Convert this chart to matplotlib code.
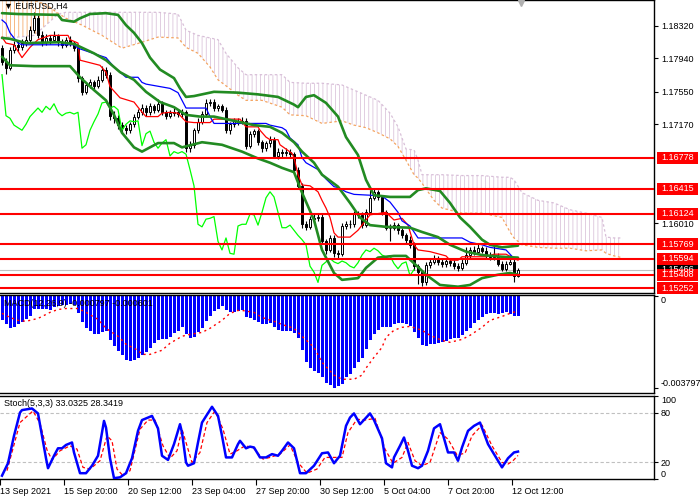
import numpy as np
import matplotlib
matplotlib.use("Agg")
import matplotlib.pyplot as plt
from matplotlib.patches import Rectangle

plt.rcParams['font.family'] = ['Liberation Sans', 'DejaVu Sans']
plt.rcParams['hatch.linewidth'] = 0.55

# EURUSD H4 candles, 13 Sep - 12 Oct 2021
open0 = 1.1806
closes = np.array([
    1.1790, 1.1783, 1.1804, 1.1810, 1.1807, 1.1812, 1.1816, 1.1827, 1.1841, 1.1821,
    1.1813, 1.1818, 1.1816, 1.1820, 1.1813, 1.1810, 1.1816, 1.1812, 1.1806, 1.1771,
    1.1755, 1.1763, 1.1766, 1.1762, 1.1769, 1.1781, 1.1775, 1.1727, 1.1724, 1.1716,
    1.1713, 1.1710, 1.1717, 1.1726, 1.1731, 1.1736, 1.1731, 1.1738, 1.1734, 1.1741,
    1.1731, 1.1727, 1.1730, 1.1731, 1.1729, 1.1731, 1.1689, 1.1693, 1.1710, 1.1720,
    1.1729, 1.1742, 1.1743, 1.1736, 1.1738, 1.1734, 1.1710, 1.1717, 1.1721, 1.1720,
    1.1721, 1.1692, 1.1706, 1.1709, 1.1696, 1.1689, 1.1695, 1.1699, 1.1680, 1.1685,
    1.1683, 1.1685, 1.1682, 1.1664, 1.1645, 1.1600, 1.1597, 1.1606, 1.1607, 1.1609,
    1.1580, 1.1570, 1.1584, 1.1566, 1.1565, 1.1598, 1.1600, 1.1600, 1.1612, 1.1611,
    1.1599, 1.1614, 1.1631, 1.1638, 1.1632, 1.1614, 1.1596, 1.1596, 1.1599, 1.1593,
    1.1587, 1.1582, 1.1576, 1.1551, 1.1544, 1.1532, 1.1552, 1.1556, 1.1560, 1.1556,
    1.1554, 1.1557, 1.1555, 1.1551, 1.1549, 1.1555, 1.1564, 1.1570, 1.1568, 1.1572,
    1.1569, 1.1564, 1.1562, 1.1563, 1.1554, 1.1548, 1.1554, 1.1556, 1.1540, 1.1547,
])
highs = np.array([
    1.1810, 1.1794, 1.1807, 1.1814, 1.1815, 1.1817, 1.1820, 1.1832, 1.1848, 1.1845,
    1.1826, 1.1823, 1.1822, 1.1826, 1.1823, 1.1817, 1.1819, 1.1820, 1.1815, 1.1809,
    1.1774, 1.1767, 1.1770, 1.1769, 1.1773, 1.1785, 1.1784, 1.1778, 1.1732, 1.1728,
    1.1720, 1.1716, 1.1720, 1.1729, 1.1735, 1.1741, 1.1739, 1.1742, 1.1741, 1.1746,
    1.1744, 1.1734, 1.1734, 1.1736, 1.1735, 1.1735, 1.1734, 1.1697, 1.1713, 1.1724,
    1.1732, 1.1746, 1.1747, 1.1746, 1.1741, 1.1741, 1.1737, 1.1720, 1.1724, 1.1724,
    1.1725, 1.1724, 1.1709, 1.1712, 1.1711, 1.1699, 1.1698, 1.1703, 1.1702, 1.1689,
    1.1688, 1.1689, 1.1688, 1.1685, 1.1667, 1.1648, 1.1604, 1.1610, 1.1612, 1.1613,
    1.1612, 1.1583, 1.1588, 1.1587, 1.1570, 1.1602, 1.1604, 1.1605, 1.1616, 1.1615,
    1.1614, 1.1618, 1.1640, 1.1643, 1.1640, 1.1634, 1.1617, 1.1600, 1.1603, 1.1602,
    1.1596, 1.1590, 1.1586, 1.1579, 1.1554, 1.1547, 1.1556, 1.1561, 1.1564, 1.1563,
    1.1560, 1.1561, 1.1560, 1.1558, 1.1555, 1.1559, 1.1573, 1.1574, 1.1575, 1.1577,
    1.1575, 1.1573, 1.1567, 1.1577, 1.1566, 1.1557, 1.1557, 1.1564, 1.1560, 1.1549,
])
lows = np.array([
    1.1786, 1.1776, 1.1780, 1.1800, 1.1803, 1.1804, 1.1809, 1.1813, 1.1824, 1.1818,
    1.1809, 1.1810, 1.1811, 1.1813, 1.1809, 1.1806, 1.1807, 1.1808, 1.1803, 1.1767,
    1.1751, 1.1752, 1.1759, 1.1758, 1.1759, 1.1766, 1.1771, 1.1722, 1.1719, 1.1712,
    1.1708, 1.1706, 1.1707, 1.1714, 1.1723, 1.1728, 1.1727, 1.1728, 1.1730, 1.1731,
    1.1728, 1.1723, 1.1724, 1.1727, 1.1725, 1.1726, 1.1684, 1.1685, 1.1689, 1.1707,
    1.1717, 1.1726, 1.1738, 1.1732, 1.1733, 1.1731, 1.1707, 1.1706, 1.1714, 1.1716,
    1.1717, 1.1688, 1.1689, 1.1702, 1.1693, 1.1685, 1.1686, 1.1690, 1.1677, 1.1676,
    1.1679, 1.1680, 1.1679, 1.1661, 1.1642, 1.1596, 1.1593, 1.1594, 1.1602, 1.1604,
    1.1577, 1.1565, 1.1567, 1.1562, 1.1561, 1.1563, 1.1595, 1.1596, 1.1597, 1.1607,
    1.1596, 1.1597, 1.1612, 1.1628, 1.1628, 1.1611, 1.1593, 1.1580, 1.1593, 1.1589,
    1.1584, 1.1578, 1.1572, 1.1547, 1.1530, 1.1528, 1.1529, 1.1549, 1.1553, 1.1552,
    1.1550, 1.1550, 1.1551, 1.1548, 1.1545, 1.1546, 1.1552, 1.1561, 1.1564, 1.1565,
    1.1566, 1.1561, 1.1558, 1.1558, 1.1551, 1.1545, 1.1545, 1.1552, 1.1532, 1.1538,
])

# Bollinger bands (20)
bb_up_x = [0, 4, 14, 15, 18, 19.5, 22, 26, 29, 31, 33, 35, 37, 39.5, 43, 44.5, 46, 48, 53, 59,
           64, 69, 73, 74, 76, 78, 81, 84, 86, 89, 91, 93, 97, 102, 104, 106, 109.5, 112, 114.5, 117,
           120, 122, 125, 129]
bb_up = [1.1847, 1.1846, 1.1845, 1.1839, 1.1837, 1.1841, 1.1846, 1.1847, 1.1845, 1.1833,
         1.1824, 1.1812, 1.1795, 1.1781, 1.1771, 1.1759, 1.1749, 1.1750, 1.1755, 1.1754,
         1.1752, 1.1749, 1.1740, 1.1737, 1.1749, 1.1751, 1.1742, 1.1726, 1.1702, 1.1681,
         1.1652, 1.1634, 1.1632, 1.1632, 1.1640, 1.1642, 1.1639, 1.1625, 1.1608, 1.1597,
         1.1582, 1.1576, 1.1573, 1.1575]
bb_mid_x = [0, 2, 6, 14.5, 18, 23, 26, 29.5, 33, 36, 39.5, 43, 46, 49.5, 53, 59, 63, 67, 70, 73,
            75, 78, 80, 84, 87, 89.5, 92, 96, 102, 105, 109, 112, 116, 120, 125, 129]
bb_mid = [1.1818, 1.1817, 1.1812, 1.1813, 1.1811, 1.1800, 1.1792, 1.1778, 1.1769, 1.1755,
          1.1743, 1.1737, 1.1728, 1.1726, 1.1726, 1.1720, 1.1716, 1.1714, 1.1707, 1.1696,
          1.1685, 1.1672, 1.1658, 1.1644, 1.1625, 1.1608, 1.1599, 1.1597, 1.1596, 1.1591,
          1.1585, 1.1576, 1.1568, 1.1564, 1.1562, 1.1561]
bb_low_x = [0, 2, 8, 17, 19.5, 23, 26, 28, 30, 33, 35, 39, 43, 45, 50, 55, 60, 64, 67, 70,
            73, 75, 78, 80, 83, 85, 89, 91, 94, 98, 101, 104, 106, 109.5, 114, 117, 120, 124, 127, 129]
bb_low = [1.1796, 1.1786, 1.1785, 1.1785, 1.1772, 1.1757, 1.1745, 1.1728, 1.1707, 1.1690,
          1.1685, 1.1695, 1.1695, 1.1690, 1.1696, 1.1693, 1.1685, 1.1677, 1.1672, 1.1666,
          1.1661, 1.1637, 1.1605, 1.1570, 1.1543, 1.1535, 1.1537, 1.1549, 1.1561, 1.1563,
          1.1563, 1.1550, 1.1541, 1.1529, 1.1527, 1.1529, 1.1537, 1.1541, 1.1543, 1.1541]

# Ichimoku: tenkan (red), kijun (blue), cloud spans
tk_x = [0, 1, 3, 5, 7, 9, 12, 16.5, 17, 19, 19.5, 24.5, 26, 27, 29.5, 33, 34.5, 36, 39, 40,
        42, 44, 46, 48, 52, 53, 59.5, 61, 64, 64.5, 66, 67, 69, 69.5, 71, 72.5, 73, 74, 75, 77,
        79, 80, 81, 82, 83, 84, 87, 89, 90, 91, 92, 96, 98, 100, 101.5, 103, 104, 107, 111, 112,
        114, 115, 121, 123, 126, 128, 129]
tenkan = [1.1819, 1.1812, 1.1810, 1.1795, 1.1807, 1.1816, 1.1821, 1.1821, 1.1816, 1.1812,
          1.1792, 1.1786, 1.1778, 1.1761, 1.1748, 1.1743, 1.1734, 1.1726, 1.1726, 1.1730,
          1.1731, 1.1730, 1.1720, 1.1719, 1.1719, 1.1723, 1.1723, 1.1714, 1.1714, 1.1710,
          1.1702, 1.1699, 1.1699, 1.1693, 1.1688, 1.1683, 1.1678, 1.1658, 1.1646, 1.1645,
          1.1638, 1.1628, 1.1619, 1.1608, 1.1590, 1.1585, 1.1585, 1.1593, 1.1599, 1.1605,
          1.1611, 1.1614, 1.1605, 1.1607, 1.1599, 1.1576, 1.1570, 1.1568, 1.1563, 1.1558,
          1.1558, 1.1562, 1.1562, 1.1565, 1.1565, 1.1560, 1.1558]
kj_x = [0, 1, 2, 4, 5, 18, 19, 26, 28, 31, 34, 35, 36, 42, 44, 45, 46, 51, 52, 53,
        66, 67, 70, 71, 72, 74, 75, 76, 79, 81, 83, 84, 86, 88, 92, 95, 97, 99, 100, 102,
        104, 115, 117, 120, 122, 126, 128, 129]
kijun = [1.1839, 1.1835, 1.1824, 1.1812, 1.1810, 1.1810, 1.1806, 1.1795, 1.1784, 1.1772,
         1.1772, 1.1766, 1.1764, 1.1759, 1.1754, 1.1745, 1.1736, 1.1736, 1.1726, 1.1718,
         1.1718, 1.1716, 1.1713, 1.1710, 1.1701, 1.1693, 1.1678, 1.1672, 1.1664, 1.1653,
         1.1644, 1.1643, 1.1638, 1.1635, 1.1634, 1.1633, 1.1626, 1.1614, 1.1604, 1.1598,
         1.1584, 1.1584, 1.1579, 1.1576, 1.1573, 1.1570, 1.1560, 1.1560]
cloud_x = [0, 4, 8, 11, 14, 16, 20, 25, 30, 35, 39, 44, 46, 49, 52, 54, 56, 59, 61, 65,
           70, 72, 76, 80, 85, 88, 91, 94, 97, 99, 101, 103, 104, 105, 108, 110, 115, 120, 125, 127,
           128, 130, 134, 138, 142, 146, 150, 151, 153, 155]
span_a = [1.1868, 1.1865, 1.1862, 1.1857, 1.1847, 1.1841, 1.1833, 1.1821, 1.1806, 1.1813,
          1.1819, 1.1818, 1.1807, 1.1800, 1.1784, 1.1769, 1.1762, 1.1751, 1.1745, 1.1745,
          1.1737, 1.1728, 1.1727, 1.1718, 1.1721, 1.1716, 1.1713, 1.1707, 1.1700, 1.1691,
          1.1675, 1.1658, 1.1654, 1.1648, 1.1628, 1.1619, 1.1613, 1.1613, 1.1608, 1.1591,
          1.1584, 1.1576, 1.1573, 1.1572, 1.1572, 1.1569, 1.1570, 1.1566, 1.1563, 1.1561]
span_b = [1.1819, 1.1819, 1.1821, 1.1833, 1.1846, 1.1848, 1.1848, 1.1848, 1.1848, 1.1848,
          1.1848, 1.1846, 1.1827, 1.1821, 1.1818, 1.1816, 1.1800, 1.1783, 1.1775, 1.1775,
          1.1775, 1.1766, 1.1765, 1.1765, 1.1763, 1.1757, 1.1751, 1.1745, 1.1730, 1.1714,
          1.1688, 1.1687, 1.1675, 1.1658, 1.1658, 1.1658, 1.1657, 1.1657, 1.1655, 1.1655,
          1.1652, 1.1637, 1.1628, 1.1625, 1.1617, 1.1613, 1.1608, 1.1585, 1.1584, 1.1584]

levels = [1.16778, 1.16415, 1.16124, 1.15769, 1.15594, 1.15408, 1.15252]
price_ticks = [1.18320, 1.17940, 1.17550, 1.17170, 1.16010]
bid = 1.15466

# MACD(12,26,9)
macd = np.array([
    -0.00099, -0.00116, -0.00132, -0.00128, -0.00116, -0.00107, -0.00095, -0.00083, -0.00054, -0.00050,
    -0.00050, -0.00054, -0.00058, -0.00045, -0.00041, -0.00037, -0.00037, -0.00033, -0.00037, -0.00070,
    -0.00107, -0.00132, -0.00145, -0.00157, -0.00157, -0.00149, -0.00145, -0.00182, -0.00207, -0.00227,
    -0.00244, -0.00264, -0.00268, -0.00264, -0.00256, -0.00244, -0.00231, -0.00215, -0.00194, -0.00182,
    -0.00178, -0.00178, -0.00169, -0.00153, -0.00145, -0.00128, -0.00157, -0.00173, -0.00169, -0.00149,
    -0.00132, -0.00103, -0.00083, -0.00062, -0.00050, -0.00041, -0.00058, -0.00066, -0.00066, -0.00062,
    -0.00058, -0.00087, -0.00091, -0.00099, -0.00107, -0.00116, -0.00116, -0.00112, -0.00128, -0.00140,
    -0.00145, -0.00145, -0.00145, -0.00153, -0.00173, -0.00223, -0.00273, -0.00297, -0.00310, -0.00318,
    -0.00335, -0.00359, -0.00368, -0.00380, -0.00372, -0.00363, -0.00335, -0.00322, -0.00297, -0.00273,
    -0.00256, -0.00219, -0.00182, -0.00157, -0.00140, -0.00128, -0.00128, -0.00128, -0.00116, -0.00112,
    -0.00112, -0.00116, -0.00124, -0.00149, -0.00173, -0.00202, -0.00207, -0.00198, -0.00198, -0.00194,
    -0.00190, -0.00186, -0.00178, -0.00173, -0.00173, -0.00161, -0.00145, -0.00132, -0.00112, -0.00099,
    -0.00087, -0.00074, -0.00070, -0.00070, -0.00074, -0.00070, -0.00066, -0.00074, -0.00083, -0.00080,
])
sig_x = [0, 2, 4, 6, 9, 10, 12, 14, 16, 19, 21, 24, 26, 29, 31, 34, 35, 37, 40, 42,
         45, 47, 50, 52, 55, 57, 59, 60, 63, 65, 68, 70, 73, 75, 78, 80, 83, 85, 88, 90,
         91, 93, 95, 96, 98, 100, 102, 105, 107, 110, 112, 115, 117, 120, 122, 125, 127, 129]
macd_sig = [-0.00070, -0.00087, -0.00099, -0.00103, -0.00091, -0.00083, -0.00066, -0.00054, -0.00050, -0.00050,
            -0.00066, -0.00095, -0.00132, -0.00165, -0.00198, -0.00223, -0.00240, -0.00240, -0.00223, -0.00194,
            -0.00165, -0.00157, -0.00149, -0.00132, -0.00099, -0.00070, -0.00058, -0.00058, -0.00066, -0.00087,
            -0.00103, -0.00116, -0.00132, -0.00165, -0.00211, -0.00273, -0.00326, -0.00343, -0.00343, -0.00326,
            -0.00297, -0.00252, -0.00211, -0.00169, -0.00140, -0.00128, -0.00124, -0.00140, -0.00161, -0.00182,
            -0.00190, -0.00178, -0.00161, -0.00128, -0.00099, -0.00083, -0.00070, -0.00060]

# Stoch(5,3,3)
st_x = [0, 1.5, 3, 4.5, 5, 7.5, 9, 10, 11, 11.5, 13, 14, 15, 16, 17.5, 18, 19.5, 21, 22.5, 24,
        25, 25.5, 26, 27, 28, 29.5, 31, 32.5, 34, 35, 37.5, 39, 40, 41.5, 43, 44.5, 45, 46, 46.5, 48,
        49, 50, 52.5, 54, 55, 56, 57.5, 59, 59.5, 61, 62, 63, 64.5, 66, 67.5, 69, 70, 71.5, 73, 74.5,
        76, 78, 80, 81.5, 83, 84.5, 86, 87, 88, 89.5, 92, 93, 95, 96, 97.5, 98, 99.5, 100.5, 101.5, 102.5,
        104, 105, 106.5, 108, 109.5, 111.5, 113, 114, 115, 116.5, 118, 119.5, 121.5, 124, 125, 126.5, 128, 129]
stoch_main = [4, 19, 52, 80, 83, 85, 79, 52, 25, 13, 28, 37, 37, 41, 44, 32, 7, 7, 16, 28,
              56, 70, 62, 25, 1, 2, 7, 25, 58, 71, 76, 61, 28, 23, 42, 66, 56, 20, 16, 19,
              44, 68, 87, 76, 52, 26, 26, 42, 46, 37, 39, 38, 26, 26, 30, 28, 34, 44, 37, 7,
              7, 16, 31, 32, 19, 28, 64, 74, 79, 66, 79, 71, 49, 19, 14, 26, 40, 50, 34, 16,
              13, 16, 34, 61, 66, 32, 32, 22, 38, 58, 64, 68, 42, 22, 14, 25, 32, 33.03]
ss_x = [1.25, 4.5, 7.75, 9.5, 11.25, 12.5, 14.5, 17, 18.75, 20.25, 22, 24.5, 26.25, 27.5, 28.75, 30.25,
        32, 34.5, 36.5, 38.25, 40.25, 42, 43.75, 45, 46.25, 47.5, 49.5, 51.25, 53.25, 55.25, 57, 58.75,
        60.75, 62.75, 65.25, 67, 69.5, 72, 74, 76.25, 78.75, 80.75, 82.75, 85, 86.5, 88.75, 90.75, 93.25,
        95.75, 97.75, 100, 101.5, 103.25, 105, 107, 109.5, 111.5, 113.75, 115.75, 117.5, 120, 122.5, 125,
        126.5, 127.75, 129]
stoch_sig = [10, 68, 82, 67, 35, 23, 34, 40, 36, 14, 12, 22, 52, 46, 12, 4, 10, 60, 71, 71,
             40, 25, 34, 60, 40, 20, 32, 68, 82, 60, 30, 34, 40, 38, 24, 26, 30, 41, 20, 7,
             12, 26, 26, 26, 56, 72, 71, 73, 36, 19, 26, 44, 22, 16, 20, 56, 48, 29, 31, 52,
             65, 40, 20, 18, 22, 28.34]

date_bars = [0, 16, 32, 48, 64, 80, 96, 112, 128]
date_labels = ['13 Sep 2021', '15 Sep 20:00', '20 Sep 12:00', '23 Sep 04:00', '27 Sep 20:00',
               '30 Sep 12:00', '5 Oct 04:00', '7 Oct 20:00', '12 Oct 12:00']

FS = 6.5
bars = np.arange(len(closes))
opens = np.r_[open0, closes[:-1]]

fig = plt.figure(figsize=(7, 5), dpi=100)
ax = fig.add_axes([0, 0.414, 0.9343, 0.586])
ax_m = fig.add_axes([0, 0.214, 0.9343, 0.196])
ax_s = fig.add_axes([0, 0.042, 0.9343, 0.166])

for a in (ax, ax_m, ax_s):
    a.set_xlim(-0.5, 163)
    a.spines['left'].set_visible(False)
    for s in ('top', 'bottom', 'right'):
        a.spines[s].set_linewidth(1.0)
    a.yaxis.tick_right()
    a.tick_params(axis='y', labelsize=FS, length=3, width=0.8, pad=2)
    a.tick_params(axis='x', bottom=False, labelbottom=False)

# ---- main price panel
ax.set_ylim(1.15196, 1.18624)

ca = np.array(cloud_x, dtype=float)
sa = np.array(span_a)
sb = np.array(span_b)
ax.fill_between(ca, sa, sb, where=sa >= sb, interpolate=True, facecolor='none',
                edgecolor='#F4A460', hatch='||||', linewidth=0, zorder=1)
ax.fill_between(ca, sa, sb, where=sb > sa, interpolate=True, facecolor='none',
                edgecolor='#D8BFD8', hatch='||||', linewidth=0, zorder=1)
ax.plot(ca, sa, color='#F4A460', lw=0.9, ls=(0, (2, 2)), zorder=1)
ax.plot(ca, sb, color='#D8BFD8', lw=0.9, ls=(0, (2, 2)), zorder=1)

ax.axhline(bid, color='#C0C0C0', lw=0.8, zorder=1)

ax.vlines(bars, lows, highs, color='black', lw=0.8, zorder=3)
body_lo = np.minimum(opens, closes)
body_h = np.abs(closes - opens)
ax.bar(bars, body_h, 0.62, bottom=body_lo,
       color=np.where(closes >= opens, 'white', 'black'),
       edgecolor='black', linewidth=0.7, zorder=4)

ax.plot(bars[:-26], closes[26:], color='#00FF00', lw=0.9, zorder=5)
ax.plot(tk_x, tenkan, color='red', lw=0.9, zorder=5)
ax.plot(kj_x, kijun, color='blue', lw=0.9, zorder=5)
for xs, ys in ((bb_up_x, bb_up), (bb_mid_x, bb_mid), (bb_low_x, bb_low)):
    ax.plot(xs, ys, color='#228B22', lw=1.9, zorder=5, solid_capstyle='round')

for lv in levels:
    ax.axhline(lv, color='red', lw=1.5, zorder=6)

ax.set_yticks(price_ticks)
ax.set_yticklabels([f'{p:.5f}' for p in price_ticks])

ytr = ax.get_yaxis_transform()
box_h = 12 * (1.18624 - 1.15196) / 293


def price_box(value, face):
    ax.add_patch(Rectangle((1.004, value - box_h / 2), 0.064, box_h, transform=ytr,
                           facecolor=face, edgecolor='none', clip_on=False, zorder=10))
    ax.text(1.036, value, f'{value:.5f}', transform=ytr, ha='center', va='center',
            color='white', fontsize=FS, clip_on=False, zorder=11)


price_box(bid, 'black')
for lv in levels:
    price_box(lv, 'red')

ax.text(0.006, 0.979, '\u25bc EURUSD,H4', transform=ax.transAxes, fontsize=FS,
        va='center', ha='left', zorder=12)
ax.plot([bars[-1] + 0.8], [0.99], marker='v', ms=5, color='#B0B0B0',
        transform=ax.get_xaxis_transform(), clip_on=False, zorder=12)

# ---- MACD panel
ax_m.set_ylim(-0.00400, 0.00006)
ax_m.bar(bars, macd, 0.75, color='#0000FF', linewidth=0, antialiased=False, zorder=2)
ax_m.plot(sig_x, macd_sig, color='red', lw=1.0, ls=(0, (1.5, 2.5)), zorder=3)
ax_m.set_yticks([0, -0.003797])
ax_m.set_yticklabels(['0', '-0.003797'])
lab = ax_m.get_yticklabels()
lab[0].set_va('top')
lab[1].set_va('bottom')
ax_m.text(0.006, 0.915, 'MACD(12,26,9) -0.000797 -0.000601', transform=ax_m.transAxes,
          fontsize=FS, va='center', ha='left', zorder=5)

# ---- Stochastic panel
ax_s.set_ylim(0, 100)
ax_s.axhline(80, color='#C0C0C0', lw=0.8, ls=(0, (3, 2)), zorder=1)
ax_s.axhline(20, color='#C0C0C0', lw=0.8, ls=(0, (3, 2)), zorder=1)
ax_s.plot(ss_x, stoch_sig, color='red', lw=0.9, ls=(0, (3, 2)), zorder=2)
ax_s.plot(st_x, stoch_main, color='#0000FF', lw=1.8, zorder=3)
ax_s.set_yticks([100, 80, 20, 0])
ax_s.set_yticklabels(['100', '80', '20', '0'])
lab = ax_s.get_yticklabels()
lab[0].set_va('top')
lab[3].set_va('bottom')
ax_s.text(0.006, 0.915, 'Stoch(5,3,3) 33.0325 28.3419', transform=ax_s.transAxes,
          fontsize=FS, va='center', ha='left', zorder=5)

ax_s.set_xticks([b - 0.5 for b in date_bars])
ax_s.set_xticklabels(date_labels)
ax_s.tick_params(axis='x', bottom=True, labelbottom=True, labelsize=FS, length=4,
                 width=0.8, pad=2)
for t in ax_s.get_xticklabels():
    t.set_ha('left')

fig.savefig('out.png', dpi=100, facecolor='white')
